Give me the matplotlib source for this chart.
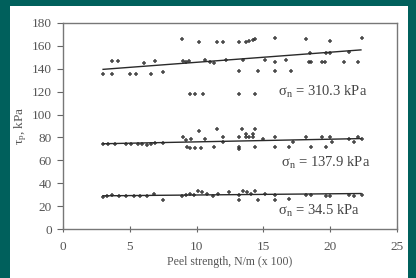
import numpy as np
import matplotlib
matplotlib.use("Agg")
import matplotlib.pyplot as plt
from matplotlib.patches import Rectangle

# --- data --------------------------------------------------------------
# sigma_n = 310.3 kPa
x_high = [3.0, 3.7, 3.7, 4.1, 5.0, 5.5, 6.1, 6.6, 6.9, 7.5, 8.9, 9.0, 9.2, 9.4,
          9.5, 9.9, 10.5, 10.2, 10.6, 11.0, 11.3, 11.5, 12.0, 12.2, 13.2, 13.2,
          13.2, 13.5, 13.7, 13.9, 14.2, 14.4, 14.4, 14.6, 15.1, 15.9, 15.9, 15.9,
          16.7, 17.1, 18.2, 18.4, 18.5, 18.6, 19.4, 19.6, 19.7, 20.0, 20.0, 21.0,
          21.4, 22.1, 22.4]
y_high = [135, 135, 147, 147, 135, 135, 145, 135, 147, 137, 166, 147, 146, 147,
          118, 118, 118, 163, 148, 146, 145, 163, 163, 148, 138, 118, 163, 148,
          163, 164, 165, 166, 118, 138, 148, 146, 138, 167, 148, 138, 166, 146,
          154, 146, 146, 146, 154, 154, 164, 146, 155, 146, 167]

# sigma_n = 137.9 kPa
x_mid = [3.0, 3.4, 3.9, 4.7, 5.1, 5.6, 5.9, 6.3, 6.6, 6.9, 7.5, 9.0, 9.2, 9.3,
         9.6, 9.5, 9.9, 10.3, 10.2, 10.6, 11.3, 11.5, 12.0, 12.0, 13.2, 13.2,
         13.2, 13.4, 13.7, 13.9, 14.2, 13.7, 14.2, 14.4, 14.4, 15.0, 15.9, 15.9,
         16.9, 17.2, 18.2, 18.6, 19.4, 19.7, 20.0, 20.1, 21.4, 21.8, 22.1, 22.4]
y_mid = [74, 74, 74, 74, 74, 74, 74, 73, 74, 75, 75, 80, 78, 72,
         79, 71, 71, 71, 86, 79, 72, 87, 80, 76, 80, 72,
         70, 87, 80, 80, 80, 83, 83, 87, 72, 79, 80, 72,
         72, 76, 80, 72, 80, 72, 80, 76, 79, 76, 80, 79]

# sigma_n = 34.5 kPa
x_low = [3.0, 3.3, 3.7, 4.2, 4.7, 5.3, 5.8, 6.3, 6.8, 7.5, 8.9, 9.2, 9.5, 9.8,
         10.1, 10.4, 10.8, 11.2, 11.6, 12.4, 13.2, 13.2, 13.5, 13.8, 14.1, 14.4,
         14.6, 15.1, 15.9, 15.9, 16.9, 18.2, 18.6, 19.7, 20.0, 21.4, 21.8, 22.4]
y_low = [28, 29, 30, 29, 29, 29, 29, 29, 31, 25, 29, 30, 31, 30,
         33, 32, 31, 29, 31, 32, 30, 25, 33, 32, 31, 33,
         25, 31, 30, 25, 26, 30, 30, 29, 29, 30, 29, 30]

# fitted trend lines (end points)
fit_x = [3.0, 22.3]
fit_high = [139.5, 156.5]
fit_mid = [74.5, 79.0]
fit_low = [29.0, 31.0]

labels = [r"$\mathregular{\sigma_n}$ = 310.3 kPa", r"$\mathregular{\sigma_n}$ = 137.9 kPa",
          r"$\mathregular{\sigma_n}$ = 34.5 kPa"]
label_pos = [(16.1, 116), (16.3, 54), (16.1, 12)]

# --- figure --------------------------------------------------------------
plt.rcParams["font.family"] = "Liberation Serif"
plt.rcParams["mathtext.fontset"] = "stix"

W, H = 416, 278
fig = plt.figure(figsize=(W / 100, H / 100), dpi=100, facecolor="#00605c")
fig.patches.append(Rectangle((10 / W, 0), 398 / W, 272 / H, transform=fig.transFigure,
                             facecolor="white", edgecolor="none", zorder=-10))

ax = fig.add_axes([63 / W, 1 - 229 / H, 334 / W, 206 / H])
ax.set_facecolor("white")

ink = "#2a2a2a"
for xs, ys, fy in [(x_high, y_high, fit_high), (x_mid, y_mid, fit_mid), (x_low, y_low, fit_low)]:
    ax.plot(xs, ys, "+", color=ink, ms=3.5, mew=1.1, alpha=0.85)
    ax.plot(fit_x, fy, "-", color=ink, lw=1.0)

for txt, (tx, ty) in zip(labels, label_pos):
    ax.text(tx, ty, txt, fontsize=10.5, color="#444444")

ax.set_xlim(0, 25)
ax.set_ylim(0, 180)
ax.set_xticks([0, 5, 10, 15, 20, 25])
ax.set_yticks(np.arange(0, 181, 20))
ax.tick_params(axis="both", labelsize=9.5, labelcolor="#555555", color="#666666", length=4)
ax.tick_params(axis="x", direction="inout", pad=7)
ax.tick_params(axis="y", direction="out", pad=4)
for s in ax.spines.values():
    s.set_color("#777777")
    s.set_linewidth(1.0)

ax.set_xlabel("Peel strength, N/m (x 100)", fontsize=8.5, color="#555555", labelpad=2)
ax.set_ylabel(r"$\mathregular{\tau_p}$, kPa", fontsize=9.5, color="#555555", labelpad=2)

fig.savefig("out.png", dpi=100, facecolor=fig.get_facecolor())
